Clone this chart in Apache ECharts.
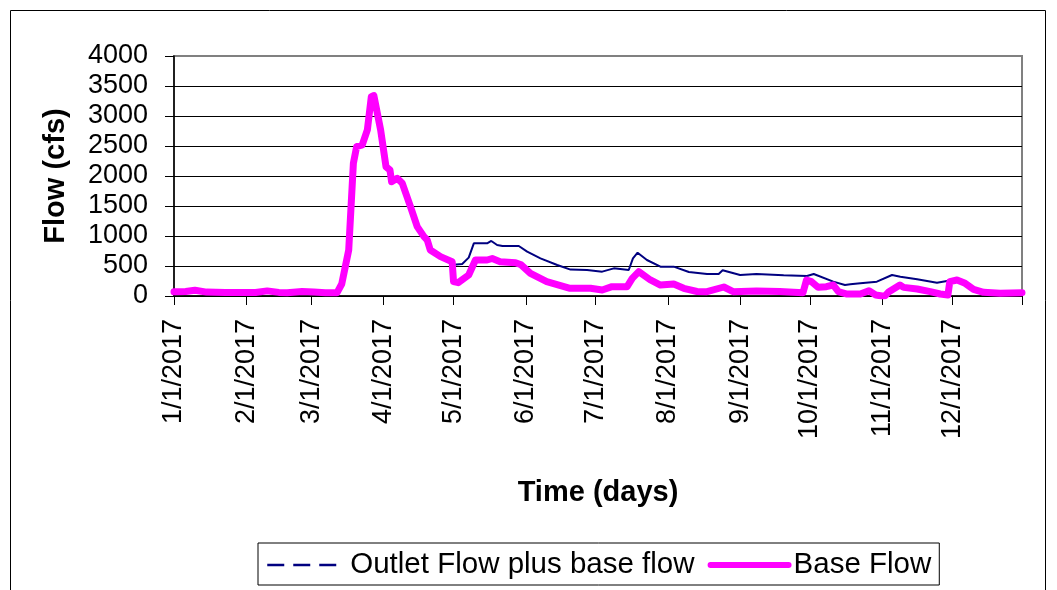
<!DOCTYPE html>
<html>
<head>
<meta charset="utf-8">
<script src="https://cdn.jsdelivr.net/npm/echarts@6/dist/echarts.min.js"></script>
<style>
html,body{margin:0;padding:0;background:#fff;}
#chart{width:1057px;height:590px;}
</style>
</head>
<body>
<div id="chart"></div>
<script>
// x values: days since 1/1/2017
var monthStarts = [0, 31, 59, 90, 120, 151, 181, 212, 243, 273, 304, 334];
var tickLabels = ['1/1/2017','2/1/2017','3/1/2017','4/1/2017','5/1/2017','6/1/2017',
                  '7/1/2017','8/1/2017','9/1/2017','10/1/2017','11/1/2017','12/1/2017'];
var yTicks = [0, 500, 1000, 1500, 2000, 2500, 3000, 3500, 4000];

var baseDay = [0, 5, 9, 14, 22, 30, 35, 40, 45, 48.6, 55, 60, 65, 70, 72, 75, 77, 78.4, 80.8, 83, 84.7, 85.8,
  88.7, 91, 92.7, 93.4, 95.8, 98, 101.5, 104.4, 107.3, 108.7, 110, 114.4, 119.4, 120, 122, 126.5, 129.4,
  134.4, 136.6, 140, 146.6, 149, 153, 160, 170, 178.8, 183.8, 188, 194.5, 196.7, 199.5, 204.5, 208.8,
  214.5, 218.8, 224.5, 228.8, 236, 240, 250, 260, 270, 271.5, 273.6, 276.5, 280, 283, 285.2, 288.9,
  294.6, 298.3, 301.2, 304, 305.3, 306.9, 311.6, 313.2, 319, 324.6, 328.9, 332.2, 333, 336.1, 339.6,
  343.2, 347.5, 354.6, 364];
var baseFlow = [70, 75, 95, 65, 60, 60, 58, 85, 60, 55, 75, 65, 55, 55, 200, 767, 2212, 2490, 2517, 2767, 3322, 3340,
  2767, 2155, 2100, 1905, 1961, 1878, 1489, 1156, 989, 933, 767, 656, 572, 239, 222, 350, 600,
  600, 625, 572, 555, 520, 378, 239, 128, 128, 100, 156, 156, 294, 406, 267, 183,
  200, 128, 75, 72, 150, 72, 85, 75, 56, 267, 239, 144, 156, 183, 72, 33,
  33, 89, 17, 0, 5, 72, 183, 144, 117, 72, 33, 17, 239, 267, 211,
  111, 61, 45, 56];

var outletDay = [0, 5, 9, 14, 22, 30, 35, 40, 45, 48.6, 55, 60, 65, 70, 72, 75, 77, 78.4, 80.8, 83, 84.7, 85.8,
  88.7, 91, 92.7, 93.4, 95.8, 98, 101.5, 104.4, 107.3, 108.7, 110, 114.4, 119.4, 120, 123.7, 126.5,
  128.7, 134.4, 136.2, 138.7, 141, 148, 151.6, 157.3, 164.5, 170.2, 177.3, 183.8, 188.8, 195.2, 197,
  199, 203, 208.8, 214.5, 221, 228.8, 233.8, 235.5, 243, 250, 261.7, 271.7, 274.6, 283, 288, 290.3,
  294.6, 301.7, 308.2, 311.8, 319, 327.5, 331.8, 333, 336.1, 339.6, 343.2, 347.5, 354.6, 364];
var outletFlow = [70, 75, 95, 65, 60, 60, 58, 85, 60, 55, 75, 65, 55, 55, 200, 767, 2212, 2490, 2517, 2767, 3322, 3340,
  2767, 2155, 2100, 1905, 1961, 1878, 1489, 1156, 989, 933, 767, 656, 572, 520, 533, 640,
  878, 878, 917, 850, 833, 833, 739, 628, 517, 440, 433, 406, 461, 433, 628,
  722, 600, 489, 489, 400, 367, 367, 430, 350, 367, 345, 333, 367, 239, 183, 194,
  211, 239, 350, 322, 278, 222, 250, 250, 267, 211, 111, 61, 45, 56];

function pairs(xs, ys) { return xs.map(function (x, i) { return [x, ys[i]]; }); }

var FONT = 'Liberation Sans';
var chart = echarts.init(document.getElementById('chart'));
chart.setOption({
  backgroundColor: '#fff',
  animation: false,
  graphic: [{
    type: 'rect', silent: true, z: -1,
    shape: { x: 10.5, y: 10.5, width: 1035, height: 640 },
    style: { fill: 'none', stroke: '#000', lineWidth: 1 }
  }],
  grid: {
    left: 174, right: 35, top: 56, bottom: 294,
    show: true, borderColor: '#808080', borderWidth: 2, backgroundColor: 'transparent'
  },
  legend: {
    left: 258, top: 543,
    itemWidth: 78, itemHeight: 14, itemGap: 13,
    padding: [7, 8, 5, 8],
    borderColor: '#000', borderWidth: 1,
    textStyle: { fontFamily: FONT, fontSize: 29.5, color: '#000' },
    data: [
      { name: 'Outlet Flow plus base flow', itemStyle: { opacity: 0 },
        lineStyle: { type: [17, 9], width: 2.5, color: '#000080' } },
      { name: 'Base Flow', itemStyle: { opacity: 0 },
        lineStyle: { width: 6, color: '#FF00FF', cap: 'round' } }
    ]
  },
  xAxis: {
    type: 'value', min: 0, max: 364,
    name: 'Time (days)', nameLocation: 'middle', nameGap: 182,
    nameTextStyle: { fontFamily: FONT, fontSize: 29, fontWeight: 'bold', color: '#000' },
    axisLine: { show: true, lineStyle: { color: '#000', width: 1.5 } },
    axisTick: { show: true, length: 9, lineStyle: { color: '#000', width: 1 },
      customValues: monthStarts.concat([364]) },
    axisLabel: {
      customValues: monthStarts, rotate: 90, margin: 23,
      fontFamily: FONT, fontSize: 27, color: '#000',
      formatter: function (v) { var i = monthStarts.indexOf(v); return i >= 0 ? tickLabels[i] : ''; }
    },
    splitLine: { show: false }
  },
  yAxis: {
    type: 'value', min: 0, max: 4000, interval: 500,
    name: 'Flow (cfs)', nameLocation: 'middle', nameGap: 104, nameRotate: 90,
    nameTextStyle: { fontFamily: FONT, fontSize: 29, fontWeight: 'bold', color: '#000' },
    axisLine: { show: true, lineStyle: { color: '#000', width: 1.5 } },
    axisTick: { show: true, length: 9, lineStyle: { color: '#000', width: 1 } },
    axisLabel: { margin: 26, fontFamily: FONT, fontSize: 27, color: '#000',
      formatter: function (v) { return yTicks.indexOf(v) >= 0 ? String(v) : ''; } },
    splitLine: { show: true, lineStyle: { color: ['#000', '#000', '#000', '#000', '#000', '#000', '#000', '#000', '#808080'], width: 1 } }
  },
  series: [
    {
      name: 'Outlet Flow plus base flow', type: 'line', symbol: 'none', showSymbol: false,
      data: pairs(outletDay, outletFlow),
      lineStyle: { color: '#000080', width: 2 },
      itemStyle: { color: '#000080' }, z: 2
    },
    {
      name: 'Base Flow', type: 'line', symbol: 'none', showSymbol: false,
      data: pairs(baseDay, baseFlow),
      lineStyle: { color: '#FF00FF', width: 7, cap: 'round', join: 'round' },
      itemStyle: { color: '#FF00FF' }, z: 3
    }
  ]
});
</script>
</body>
</html>
